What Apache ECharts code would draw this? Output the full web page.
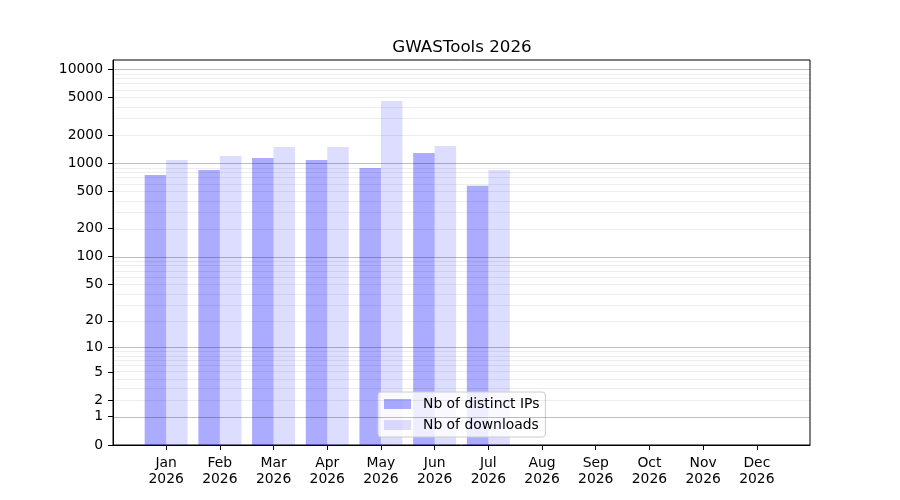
<!DOCTYPE html>
<html>
<head>
<meta charset="utf-8">
<script src="https://cdn.jsdelivr.net/npm/echarts@6/dist/echarts.min.js"></script>
<style>html,body{margin:0;padding:0;background:#fff}#c{width:900px;height:500px}</style>
</head>
<body>
<div id="c"></div>
<script>
const months = ['Jan','Feb','Mar','Apr','May','Jun','Jul','Aug','Sep','Oct','Nov','Dec'];
const year = '2026';
const ips = [750, 848, 1138, 1083, 891, 1287, 573, 0, 0, 0, 0, 0];
const downloads = [1083, 1195, 1490, 1490, 4600, 1528, 848, 0, 0, 0, 0, 0];
const yTicks = [0, 1, 2, 5, 10, 20, 50, 100, 200, 500, 1000, 2000, 5000, 10000];
const majorGrid = [1, 10, 100, 1000, 10000];
const decades = [1, 10, 100, 1000];
const minorMult = [2, 3, 4, 5, 6, 7, 8, 9];

const f = v => Math.log10(1 + v);
const minorGrid = [];
decades.forEach(d => minorMult.forEach(m => minorGrid.push(d * m)));

const FONT = 'DejaVu Sans';
const chart = echarts.init(document.getElementById('c'));
const xs = months.map((m, i) => i);

const gridLines = [
  ...minorGrid.map(v => ({yAxis: f(v), lineStyle: {color: 'rgba(0,0,0,0.07)', width: 1, type: 'solid'}})),
  ...majorGrid.map(v => ({yAxis: f(v), lineStyle: {color: 'rgba(0,0,0,0.25)', width: 1, type: 'solid'}}))
];

chart.setOption({
  animation: false,
  title: {
    text: 'GWASTools 2026', left: 457, top: 34, textAlign: 'center',
    textStyle: {fontFamily: FONT, fontSize: 16.7, fontWeight: 'normal', color: '#000'}
  },
  grid: {left: 113, right: 90, top: 60, bottom: 55, show: true, borderColor: '#000', borderWidth: 1, backgroundColor: 'transparent'},
  legend: {
    orient: 'vertical', left: 378, top: 392,
    itemWidth: 27, itemHeight: 10, itemGap: 7,
    padding: [5, 6, 5, 6],
    borderColor: '#cccccc', borderWidth: 1, borderRadius: 3,
    backgroundColor: 'rgba(255,255,255,0.8)',
    textStyle: {fontFamily: FONT, fontSize: 13.9, color: '#000', padding: [0, 0, 0, 7]},
    data: [{name: 'Nb of distinct IPs', icon: 'rect'}, {name: 'Nb of downloads', icon: 'rect'}]
  },
  xAxis: {
    type: 'value', min: -0.99, max: 11.99,
    splitLine: {show: false},
    axisLine: {show: true, onZero: false, lineStyle: {color: '#000', width: 1}},
    axisTick: {show: true, length: 5, customValues: xs, lineStyle: {color: '#000'}},
    axisLabel: {
      customValues: xs, margin: 10,
      fontFamily: FONT, fontSize: 13.9, color: '#000', lineHeight: 16,
      formatter: v => months[Math.round(v)] + '\n' + year
    }
  },
  yAxis: {
    type: 'value', min: 0, max: 4.099,
    splitLine: {show: false},
    axisLine: {show: true, onZero: false, lineStyle: {color: '#000', width: 1}},
    axisTick: {show: true, length: 5, customValues: yTicks.map(f), lineStyle: {color: '#000'}},
    axisLabel: {
      customValues: yTicks.map(f), margin: 10, padding: [2, 0, 0, 0],
      fontFamily: FONT, fontSize: 13.9, color: '#000',
      formatter: v => String(Math.round(Math.pow(10, v) - 1))
    }
  },
  series: [
    {
      name: 'Nb of distinct IPs', type: 'bar', barWidth: 21.5, barGap: '0%',
      itemStyle: {color: 'rgba(0,0,255,0.33)'},
      data: ips.map((v, i) => [i, f(v)])
    },
    {
      name: 'Nb of downloads', type: 'bar', barWidth: 21.5, barGap: '0%',
      itemStyle: {color: 'rgba(0,0,255,0.135)'},
      data: downloads.map((v, i) => [i, f(v)]),
      markLine: {
        silent: true, symbol: 'none', label: {show: false},
        animation: false,
        data: gridLines
      }
    }
  ]
});
</script>
</body>
</html>
